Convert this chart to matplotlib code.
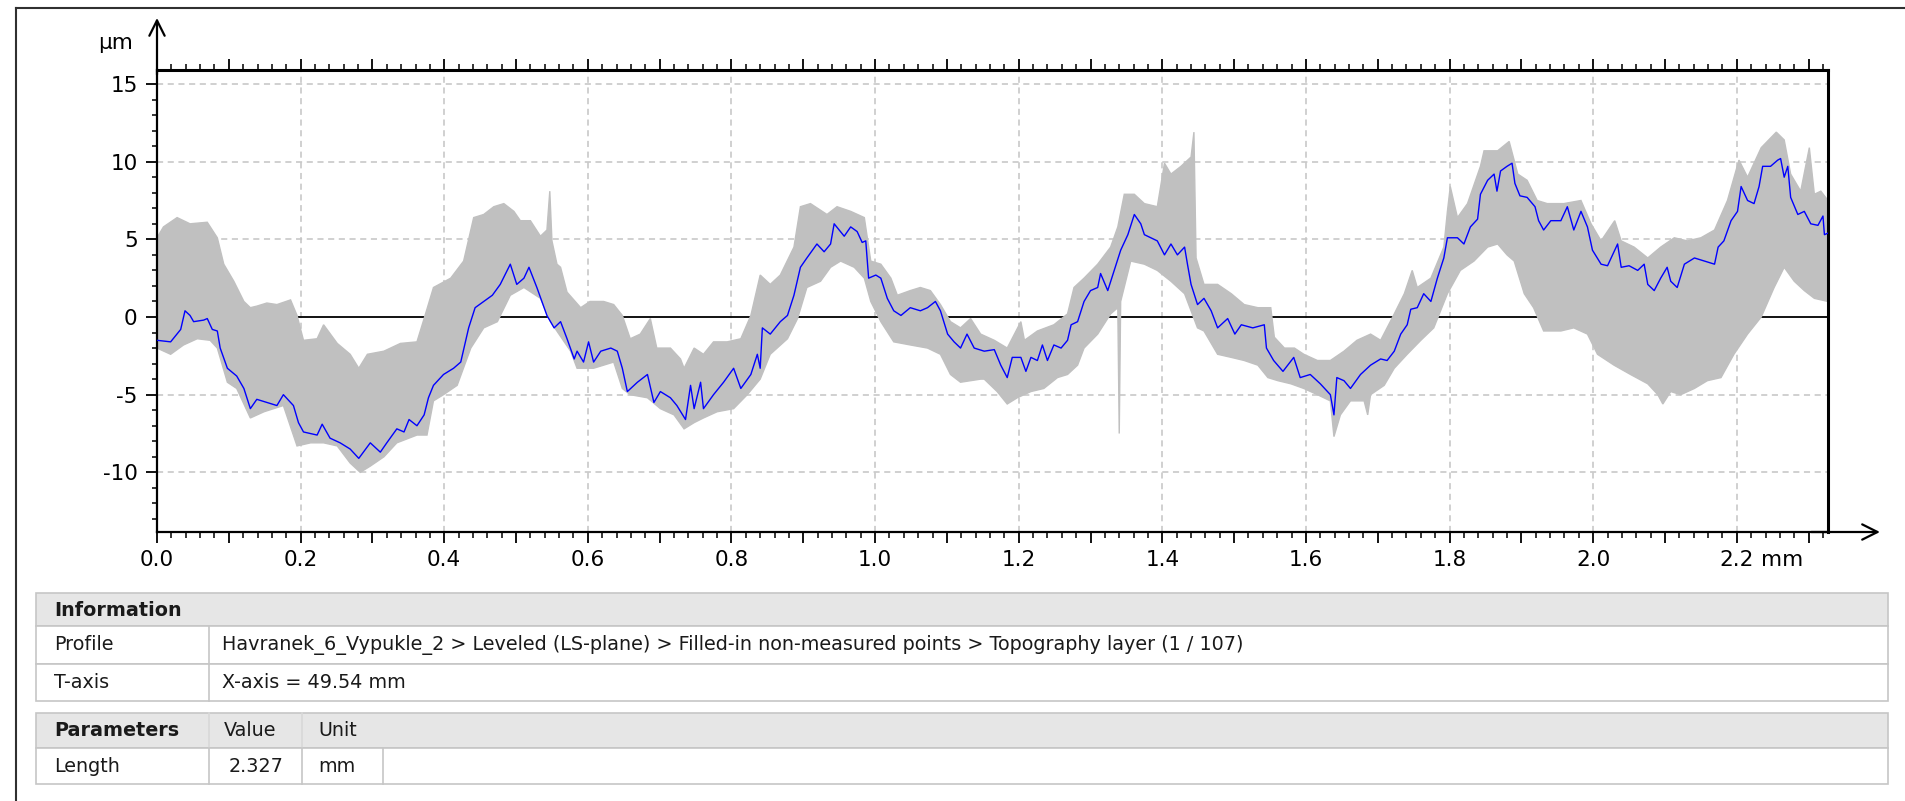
"""
Profile plot: 107 overlaid topography profiles (grey) with the first one in blue,
plus the info / parameter tables underneath.
"""
import numpy as np
import matplotlib
matplotlib.use('Agg')
import matplotlib.pyplot as plt
from matplotlib.patches import Rectangle
from matplotlib.lines import Line2D
from matplotlib.ticker import MultipleLocator, FuncFormatter

plt.rcParams.update({'font.family': 'DejaVu Sans', 'axes.unicode_minus': False})

# ── Profile 1 (blue), x in mm, z in um ──
blue_x = [0.000, 0.019, 0.033, 0.039, 0.046, 0.051, 0.065, 0.070, 0.077, 0.084, 0.088, 0.098,
          0.111, 0.121, 0.130, 0.139, 0.153, 0.167, 0.176, 0.190, 0.197, 0.204, 0.223, 0.230,
          0.241, 0.255, 0.269, 0.281, 0.297, 0.311, 0.320, 0.334, 0.344, 0.351, 0.362, 0.372,
          0.378, 0.385, 0.399, 0.413, 0.423, 0.434, 0.443, 0.455, 0.467, 0.478, 0.492, 0.501,
          0.511, 0.518, 0.529, 0.543, 0.553,
          0.562, 0.571, 0.581, 0.585, 0.594, 0.601, 0.608, 0.618, 0.632, 0.641, 0.648, 0.655,
          0.669, 0.683, 0.692, 0.701, 0.715, 0.724, 0.736, 0.743, 0.748, 0.757, 0.761, 0.775,
          0.789, 0.803, 0.813, 0.827, 0.836, 0.840, 0.843, 0.854, 0.868, 0.878, 0.887, 0.896,
          0.905, 0.919, 0.929, 0.938, 0.943, 0.957, 0.966, 0.975, 0.982, 0.987, 0.991, 1.001,
          1.008, 1.017, 1.026, 1.036, 1.049, 1.063, 1.073, 1.084, 1.091, 1.101, 1.110, 1.119,
          1.128,
          1.138, 1.152, 1.166, 1.175, 1.184, 1.191, 1.203, 1.210, 1.217, 1.226, 1.233, 1.240,
          1.249, 1.259, 1.268, 1.273, 1.282, 1.291, 1.300, 1.310, 1.314, 1.324, 1.333, 1.342,
          1.352, 1.361, 1.370, 1.375, 1.384, 1.393, 1.403, 1.412, 1.421, 1.431, 1.435, 1.440,
          1.449, 1.458, 1.468, 1.477, 1.491, 1.501, 1.510, 1.526, 1.542, 1.545, 1.555, 1.568,
          1.583, 1.592, 1.606, 1.620, 1.634, 1.639, 1.643, 1.653, 1.662, 1.676, 1.690,
          1.704, 1.713, 1.723, 1.732, 1.741, 1.746, 1.755, 1.764, 1.774, 1.783, 1.792, 1.797,
          1.811, 1.820, 1.829, 1.839, 1.843, 1.853, 1.862, 1.866, 1.871, 1.880, 1.887, 1.891,
          1.898, 1.908, 1.919, 1.924, 1.931, 1.941, 1.955, 1.964, 1.973, 1.983, 1.992, 1.999,
          2.011, 2.020, 2.034, 2.039, 2.050, 2.062, 2.071, 2.076, 2.085, 2.094, 2.103, 2.108,
          2.117, 2.127, 2.141, 2.155, 2.169, 2.174, 2.182, 2.192, 2.201, 2.206, 2.215, 2.224,
          2.231, 2.236, 2.247, 2.257, 2.261, 2.266, 2.271, 2.275, 2.285, 2.294, 2.303, 2.313,
          2.320, 2.322, 2.327]
blue_y = [-1.5, -1.6, -0.8, 0.4, 0.1, -0.3, -0.2, -0.1, -0.8, -0.9, -2.0, -3.3,
          -3.8, -4.6, -5.9, -5.3, -5.5, -5.7, -5.0, -5.7, -6.8, -7.4, -7.6, -6.9,
          -7.8, -8.1, -8.5, -9.1, -8.1, -8.7, -8.1, -7.2, -7.4, -6.6, -7.0, -6.3,
          -5.2, -4.4, -3.7, -3.3, -2.9, -0.7, 0.6, 1.0, 1.4, 2.1, 3.4, 2.1,
          2.5, 3.2, 1.9, 0.1, -0.7,
          -0.3, -1.4, -2.7, -2.2, -2.9, -1.6, -2.9, -2.2, -2.0, -2.2, -3.3, -4.8,
          -4.2, -3.7, -5.5, -4.8, -5.2, -5.7, -6.6, -4.4, -5.9, -4.2, -5.9, -5.0,
          -4.2, -3.3, -4.6, -3.7, -2.4, -3.3, -0.7, -1.1, -0.3, 0.1, 1.4, 3.2,
          3.8, 4.7, 4.2, 4.7, 6.0, 5.2, 5.8, 5.5, 4.8, 4.9, 2.5, 2.7,
          2.5, 1.2, 0.4, 0.1, 0.6, 0.4, 0.6, 1.0, 0.4, -1.1, -1.6, -2.0,
          -1.1,
          -2.0, -2.2, -2.1, -3.1, -3.9, -2.6, -2.6, -3.5, -2.6, -2.8, -1.8, -2.8,
          -1.8, -2.0, -1.5, -0.5, -0.3, 1.0, 1.7, 1.9, 2.8, 1.7, 3.0, 4.3,
          5.3, 6.6, 6.0, 5.3, 5.1, 4.9, 4.0, 4.7, 4.0, 4.5, 3.4, 2.1,
          0.8, 1.2, 0.4, -0.7, -0.1, -1.1, -0.5, -0.7, -0.5, -2.0, -2.8, -3.5,
          -2.6, -3.9, -3.7, -4.3, -5.0, -6.3, -3.9, -4.1, -4.6, -3.7, -3.1,
          -2.7, -2.8, -2.2, -1.1, -0.5, 0.5, 0.6, 1.5, 1.0, 2.5, 3.8, 5.1,
          5.1, 4.7, 5.8, 6.3, 7.9, 8.8, 9.2, 8.1, 9.4, 9.7, 9.9, 8.6,
          7.8, 7.7, 7.1, 6.2, 5.6, 6.2, 6.2, 7.1, 5.6, 6.8, 5.8, 4.3,
          3.4, 3.3, 4.7, 3.2, 3.3, 3.0, 3.4, 2.1, 1.7, 2.5, 3.2, 2.3,
          1.9, 3.4, 3.8, 3.6, 3.4, 4.5, 4.9, 6.2, 6.8, 8.4, 7.5, 7.3,
          8.4, 9.7, 9.7, 10.1, 10.2, 9.0, 9.7, 7.7, 6.6, 6.8, 6.0, 5.9,
          6.5, 5.3, 5.4]

# ── Envelope of all 107 profiles (grey band) ──
upper_x = [0.000, 0.009, 0.028, 0.046, 0.070, 0.084, 0.093, 0.107, 0.121, 0.130, 0.139, 0.153,
           0.167, 0.186, 0.195, 0.204, 0.223, 0.232, 0.251, 0.269, 0.281, 0.293, 0.316, 0.339,
           0.362, 0.372, 0.385, 0.409, 0.427, 0.441, 0.455, 0.469, 0.483, 0.497, 0.506, 0.520,
           0.534, 0.543, 0.547, 0.550, 0.557,
           0.562, 0.571, 0.590, 0.603, 0.622, 0.636, 0.648, 0.659, 0.673, 0.687, 0.696, 0.715,
           0.729, 0.734, 0.748, 0.761, 0.775, 0.794, 0.813, 0.827, 0.840, 0.854, 0.868, 0.887,
           0.896, 0.910, 0.933, 0.947, 0.966, 0.985, 0.994, 1.008, 1.022, 1.031, 1.049, 1.063,
           1.077, 1.091, 1.105, 1.119, 1.133,
           1.147, 1.166, 1.184, 1.203, 1.208, 1.226, 1.249, 1.268, 1.277, 1.291, 1.310, 1.328,
           1.338, 1.347, 1.361, 1.375, 1.393, 1.403, 1.412, 1.426, 1.440, 1.444, 1.447, 1.458,
           1.477, 1.496, 1.514, 1.533, 1.551, 1.556, 1.570, 1.584, 1.597, 1.616, 1.634, 1.653,
           1.671, 1.690,
           1.704, 1.723, 1.737, 1.748, 1.755, 1.774, 1.792, 1.797, 1.801, 1.811, 1.825, 1.843,
           1.848, 1.867, 1.883, 1.895, 1.908, 1.922, 1.936, 1.959, 1.983, 1.997, 2.011, 2.030,
           2.039, 2.057, 2.076, 2.094, 2.113, 2.131, 2.150, 2.169, 2.187, 2.203, 2.215, 2.234,
           2.255, 2.266, 2.275, 2.289, 2.301, 2.308, 2.317, 2.327]
upper_y = [5.1, 5.8, 6.4, 6.0, 6.1, 5.1, 3.4, 2.3, 1.0, 0.6, 0.7, 0.9,
           0.8, 1.1, 0.1, -1.5, -1.4, -0.5, -1.7, -2.4, -3.3, -2.4, -2.2, -1.7,
           -1.6, -0.1, 1.9, 2.5, 3.6, 6.4, 6.6, 7.1, 7.3, 6.8, 6.2, 6.2,
           5.2, 5.6, 8.1, 4.9, 3.4,
           3.2, 1.6, 0.6, 1.0, 1.0, 0.8, 0.1, -1.4, -1.1, -0.1, -2.0, -2.0,
           -2.7, -3.3, -2.0, -2.4, -1.6, -1.6, -1.4, 0.1, 2.7, 2.1, 2.7, 4.5,
           7.1, 7.3, 6.6, 7.1, 6.8, 6.4, 3.6, 3.4, 2.5, 1.4, 1.7, 1.9,
           1.7, 0.8, -0.3, -0.7, -0.1,
           -1.1, -1.5, -2.0, -0.3, -1.5, -0.9, -0.5, 0.2, 1.9, 2.5, 3.4, 4.5,
           5.8, 7.9, 7.9, 7.3, 7.1, 9.9, 9.2, 9.7, 10.3, 11.9, 3.8, 2.1,
           2.1, 1.5, 0.8, 0.6, 0.6, -1.3, -2.0, -2.0, -2.4, -2.8, -2.8, -2.2,
           -1.5, -1.1,
           -1.5, 0.2, 1.5, 3.0, 1.9, 2.5, 4.5, 6.8, 8.4, 6.4, 7.3, 9.7,
           10.7, 10.7, 11.3, 9.2, 8.8, 7.5, 7.3, 7.3, 7.5, 6.0, 4.9, 6.2,
           4.9, 4.5, 3.8, 4.5, 5.1, 4.9, 5.1, 5.6, 7.5, 10.1, 9.0, 10.9,
           11.9, 11.4, 9.2, 8.1, 10.9, 7.9, 8.1, 7.5]

lower_x = [0.000, 0.019, 0.037, 0.056, 0.074, 0.084, 0.098, 0.111, 0.130, 0.149, 0.176, 0.195,
           0.214, 0.232, 0.251, 0.269, 0.283, 0.297, 0.316, 0.334, 0.362, 0.376, 0.385, 0.399,
           0.418, 0.437, 0.455, 0.474, 0.492, 0.511, 0.534, 0.548, 0.576,
           0.585, 0.608, 0.636, 0.648, 0.659, 0.683, 0.701, 0.720, 0.734, 0.748, 0.761, 0.780,
           0.803, 0.822, 0.840, 0.854, 0.878, 0.892, 0.905, 0.924, 0.938, 0.952, 0.971, 0.985,
           0.994, 1.008, 1.026, 1.049, 1.073, 1.091, 1.105, 1.119, 1.147,
           1.152, 1.170, 1.184, 1.198, 1.217, 1.235, 1.254, 1.268, 1.282, 1.291, 1.310, 1.328,
           1.338, 1.340, 1.342, 1.356, 1.375, 1.393, 1.412, 1.431, 1.440, 1.449, 1.458, 1.477,
           1.496, 1.514, 1.533, 1.547, 1.561, 1.579, 1.597, 1.616, 1.634, 1.639, 1.648, 1.662,
           1.681, 1.686, 1.690, 1.709,
           1.723, 1.741, 1.760, 1.778, 1.797, 1.815, 1.834, 1.853, 1.867, 1.880, 1.890, 1.904,
           1.917, 1.931, 1.955, 1.973, 1.992, 2.006, 2.029, 2.052, 2.076, 2.090, 2.097, 2.108,
           2.122, 2.141, 2.159, 2.178, 2.196, 2.215, 2.234, 2.252, 2.266, 2.280, 2.294, 2.308,
           2.327]
lower_y = [-2.0, -2.4, -1.8, -1.4, -1.5, -2.0, -4.2, -4.6, -6.5, -6.1, -5.7, -8.3,
           -8.1, -8.1, -8.3, -9.4, -10.0, -9.6, -9.0, -8.1, -7.6, -7.6, -5.4, -5.0,
           -4.4, -2.0, -0.7, -0.3, 1.4, 1.9, 1.2, -0.3, -2.2,
           -3.3, -3.3, -2.9, -4.6, -5.0, -5.2, -5.9, -6.3, -7.2, -6.8, -6.5, -6.1,
           -5.9, -5.0, -4.0, -2.4, -1.4, -0.1, 1.9, 2.3, 3.2, 3.6, 3.2, 2.5,
           1.0, -0.3, -1.6, -1.8, -2.0, -2.4, -3.7, -4.2, -4.0,
           -4.0, -4.8, -5.6, -5.2, -4.8, -4.6, -3.9, -3.7, -3.1, -2.0, -1.1, 0.2,
           0.6, -7.5, 1.0, 3.6, 3.4, 3.0, 2.3, 1.5, 0.4, -0.7, -0.9, -2.4,
           -2.6, -2.8, -3.1, -3.9, -4.1, -4.3, -4.6, -5.0, -5.4, -7.7, -6.3, -5.4,
           -5.4, -6.3, -5.0, -4.4,
           -3.3, -2.4, -1.5, -0.7, 1.5, 3.0, 3.6, 4.5, 4.7, 4.0, 3.6, 1.5,
           0.6, -0.9, -0.9, -0.7, -1.1, -2.4, -3.1, -3.7, -4.3, -5.0, -5.6, -4.8,
           -5.0, -4.6, -4.1, -3.9, -2.4, -1.1, 0.0, 1.9, 3.2, 2.3, 1.7, 1.2,
           1.0]

# ── Axis / table content ──
x_len = 2.327
y_lim = (-13.84, 15.9)
grid_x = [0.2, 0.4, 0.6, 0.8, 1.0, 1.2, 1.4, 1.6, 1.8, 2.0, 2.2]
grid_y = [-10, -5, 5, 10, 15]
info_rows = [('Profile', 'Havranek_6_Vypukle_2 > Leveled (LS-plane) > Filled-in non-measured points > Topography layer (1 / 107)'),
             ('T-axis', 'X-axis = 49.54 mm')]
param_cols = ['Parameters', 'Value', 'Unit']
param_rows = [('Length', '2.327', 'mm')]

W, H = 1906, 801
fig = plt.figure(figsize=(W / 100, H / 100), dpi=100)

def fx(px):
    return px / W

def fy(py):
    return 1 - py / H

ax = fig.add_axes([fx(157), fy(532), fx(1828) - fx(157), fy(70) - fy(532)])

# grid (dashed, only every 0.2 mm / 5 um)
for v in grid_x:
    ax.axvline(v, color='#c4c4c4', lw=1.1, ls=(0, (4, 3)), zorder=0)
for v in grid_y:
    ax.axhline(v, color='#c4c4c4', lw=1.1, ls=(0, (4, 3)), zorder=0)

ax.axhline(0, color='black', lw=1.3, zorder=1)

band_x = upper_x + lower_x[::-1]
band_y = upper_y + lower_y[::-1]
ax.fill(band_x, band_y, color='#c0c0c0', lw=1.0, zorder=2)
ax.plot(blue_x, blue_y, color='#0000ff', lw=1.0, zorder=3)

ax.set_xlim(0, x_len)
ax.set_ylim(*y_lim)

ax.xaxis.set_major_locator(MultipleLocator(0.1))
ax.xaxis.set_minor_locator(MultipleLocator(0.02))
ax.xaxis.set_major_formatter(FuncFormatter(
    lambda v, _: f'{v:.1f}' if round(v * 10) % 2 == 0 else ''))
ax.yaxis.set_major_locator(MultipleLocator(5))
ax.yaxis.set_minor_locator(MultipleLocator(1))
ax.yaxis.set_major_formatter(FuncFormatter(lambda v, _: f'{int(round(v))}'))

TICK_FS = 15.5
ax.tick_params(axis='x', which='major', direction='out', length=7.9, width=1.3,
               top=True, bottom=True, labelsize=TICK_FS, pad=5)
ax.tick_params(axis='x', which='minor', direction='out', length=4.3, width=1.1,
               top=True, bottom=True)
ax.tick_params(axis='y', which='major', direction='out', length=7.9, width=1.3,
               left=True, right=False, labelsize=TICK_FS, pad=6)
ax.tick_params(axis='y', which='minor', direction='out', length=3.6, width=1.1,
               left=True, right=False)

for side in ['left', 'bottom']:
    ax.spines[side].set_linewidth(1.6)
for side in ['top', 'right']:
    ax.spines[side].set_linewidth(2.2)

# axis arrows
arr = dict(arrowstyle='->,head_length=0.5,head_width=0.25', lw=1.6, color='black',
           shrinkA=0, shrinkB=0, mutation_scale=22)
ax.annotate('', xy=(0, 1.1126), xytext=(0, 0.99), xycoords='axes fraction',
            arrowprops=arr, annotation_clip=False)
ax.annotate('', xy=(1.0311, 0), xytext=(0.99, 0), xycoords='axes fraction',
            arrowprops=arr, annotation_clip=False)
ax.text(-0.0144, 1.0584, 'µm', transform=ax.transAxes, ha='right', va='center', fontsize=TICK_FS)
ax.annotate('mm', xy=(2.2, 0), xycoords=ax.get_xaxis_transform(),
            xytext=(24, -18), textcoords='offset pixels', ha='left', va='top', fontsize=TICK_FS)

# outer frame
fig.add_artist(Line2D([fx(16), fx(16)], [fy(8), fy(H)], color='#303030', lw=1.5))
fig.add_artist(Line2D([fx(16), fx(W)], [fy(8), fy(8)], color='#303030', lw=1.5))

# ── Tables ──
HEAD = '#e6e6e6'
EDGE = '#c6c6c6'
TXT = '#1a1a1a'
TAB_FS = 13.8

def box(x0, y0, x1, y1, fc):
    fig.add_artist(Rectangle((fx(x0), fy(y1)), fx(x1) - fx(x0), fy(y0) - fy(y1),
                             transform=fig.transFigure, fc=fc, ec=EDGE, lw=1.2))

def vline(x, y0, y1, color=EDGE):
    fig.add_artist(Line2D([fx(x), fx(x)], [fy(y0), fy(y1)], color=color, lw=1.2))

def label(x, y, s, bold=False, ha='left'):
    fig.text(fx(x), fy(y), s, ha=ha, va='center', fontsize=TAB_FS, color=TXT,
             fontweight='bold' if bold else 'normal')

box(36, 593, 1888, 626, HEAD)
label(54, 610, 'Information', bold=True)
row_edges = [626, 664, 701]
for i, (k, v) in enumerate(info_rows):
    box(36, row_edges[i], 1888, row_edges[i + 1], 'white')
    vline(209, row_edges[i], row_edges[i + 1])
    label(54, (row_edges[i] + row_edges[i + 1]) / 2, k)
    label(222, (row_edges[i] + row_edges[i + 1]) / 2, v)

box(36, 713, 1888, 748, HEAD)
vline(209, 713, 748, '#d8d8d8')
vline(302, 713, 748, '#d8d8d8')
label(54, 731, param_cols[0], bold=True)
label(224, 731, param_cols[1])
label(318, 731, param_cols[2])
for k, v, u in param_rows:
    box(36, 748, 1888, 784, 'white')
    for xv in [209, 302, 383]:
        vline(xv, 748, 784)
    label(54, 766, k)
    label(256, 766, v, ha='center')
    label(318, 766, u)

fig.savefig('out.png', dpi=100)
plt.close(fig)
